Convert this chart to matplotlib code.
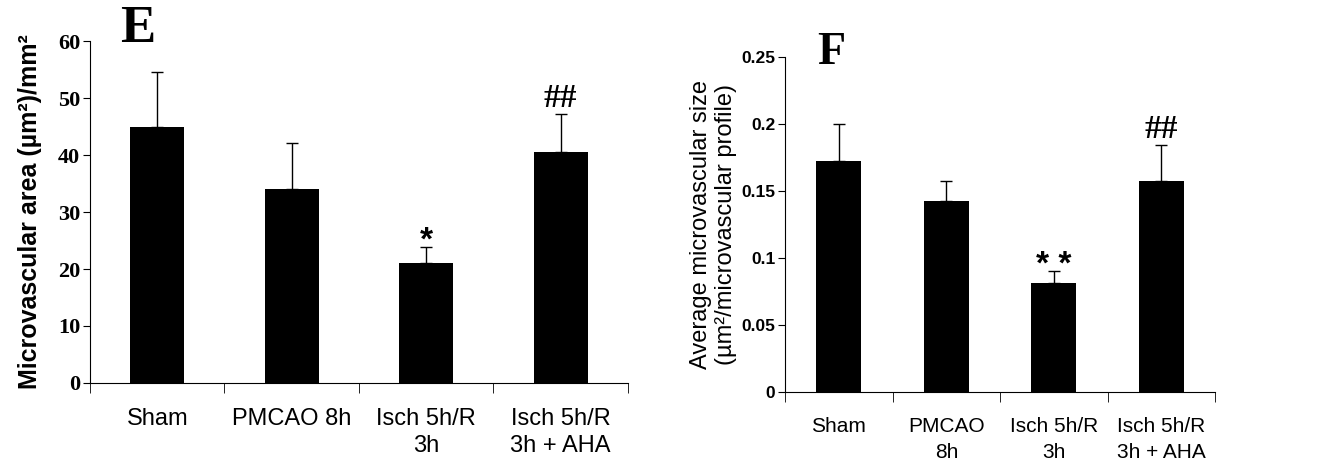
import matplotlib
matplotlib.use("Agg")
import matplotlib.pyplot as plt
import numpy as np

# Panel E data
labels_e = ["Sham", "PMCAO 8h", "Isch 5h/R\n3h", "Isch 5h/R\n3h + AHA"]
area_mean = [44.9, 34.0, 21.1, 40.5]
area_err = [9.6, 8.1, 2.8, 6.7]
area_marks = ["", "", "*", "##"]

# Panel F data
labels_f = ["Sham", "PMCAO\n8h", "Isch 5h/R\n3h", "Isch 5h/R\n3h + AHA"]
size_mean = [0.1724, 0.1425, 0.0813, 0.1575]
size_err = [0.0276, 0.0150, 0.0090, 0.0265]
size_marks = ["", "", "* *", "##"]

fig = plt.figure(figsize=(13.33, 4.63), dpi=100)
ax1 = fig.add_axes([0.0675, 0.1728, 0.4035, 0.7386])
ax2 = fig.add_axes([0.589, 0.1533, 0.3225, 0.7237])

sans = ["Liberation Sans", "DejaVu Sans"]
serif = ["Liberation Serif", "DejaVu Serif"]


def draw(ax, labels, mean, err, marks, width, ymax, step, xfs, xls, tickfont, tfs):
    x = np.arange(len(labels))
    ax.bar(x, mean, width, color="black", zorder=2)
    ax.errorbar(x, mean, yerr=[np.zeros(len(err)), err], fmt="none",
                ecolor="black", elinewidth=1, capsize=4, capthick=1, zorder=1)
    for xi, m, e, t in zip(x, mean, err, marks):
        if not t:
            continue
        if "#" in t:
            ax.annotate(t, (xi, m + e), xytext=(0, 5), textcoords="offset points",
                        ha="center", va="baseline", fontsize=24,
                        fontweight="bold", family=serif)
        else:
            ax.annotate(t, (xi, m + e), xytext=(0, -2), textcoords="offset points",
                        ha="center", va="baseline", fontsize=24,
                        fontweight="bold", family=sans)
    ax.set_xlim(-0.5, len(labels) - 0.5)
    ax.set_ylim(0, ymax)
    ax.set_yticks(np.arange(0, ymax + step / 2, step))
    ax.spines["top"].set_visible(False)
    ax.spines["right"].set_visible(False)
    ax.set_xticks(x)
    ax.set_xticklabels(labels, fontsize=xfs, family=sans, linespacing=xls)
    ax.tick_params(axis="x", length=0, pad=18)
    ax.set_xticks(np.arange(-0.5, len(labels)), minor=True)
    ax.tick_params(axis="x", which="minor", length=7, direction="out")
    ax.tick_params(axis="y", length=5, direction="out", pad=2)
    for lab in ax.get_yticklabels():
        lab.set_family(tickfont)
        lab.set_fontweight("bold")
        lab.set_fontsize(tfs)


draw(ax1, labels_e, area_mean, area_err, area_marks, 0.4, 60, 10, 17, 1.3, serif, 16)
draw(ax2, labels_f, size_mean, size_err, size_marks, 0.42, 0.25, 0.05, 15, 1.45, sans, 12.5)
ax2.yaxis.set_major_formatter(matplotlib.ticker.FuncFormatter(
    lambda v, p: "0" if v == 0 else f"{v:g}"))

ax1.set_ylabel("Microvascular area (µm²)/mm²", fontsize=18, fontweight="bold",
               family=sans)
ax1.yaxis.set_label_coords(-0.09, 0.5)
ax2.set_ylabel("Average microvascular size\n(µm²/microvascular profile)",
               fontsize=17, family=sans, linespacing=1.2)
ax2.yaxis.set_label_coords(-0.112, 0.5)

fig.text(0.09, 0.99, "E", fontsize=38, fontweight="bold", family=serif,
         va="top", ha="left")
fig.text(0.613, 0.93, "F", fontsize=33, fontweight="bold", family=serif,
         va="top", ha="left")

fig.savefig("out.png", dpi=100)
